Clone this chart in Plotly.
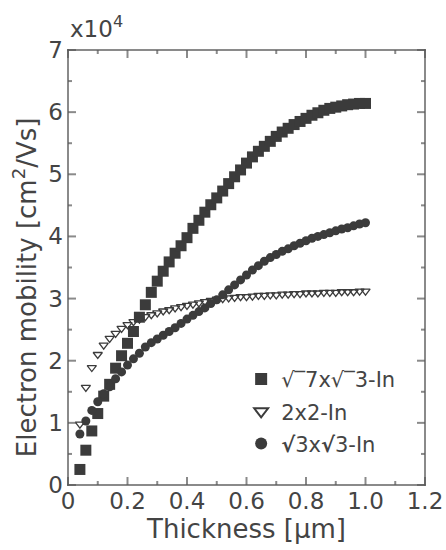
import plotly.graph_objects as go

# Film thickness in micrometres (shared by all three series)
thickness = [0.04, 0.06, 0.08, 0.10, 0.12, 0.14, 0.16, 0.18, 0.20, 0.22,
             0.24, 0.26, 0.28, 0.30, 0.32, 0.34, 0.36, 0.38, 0.40, 0.42,
             0.44, 0.46, 0.48, 0.50, 0.52, 0.54, 0.56, 0.58, 0.60, 0.62,
             0.64, 0.66, 0.68, 0.70, 0.72, 0.74, 0.76, 0.78, 0.80, 0.82,
             0.84, 0.86, 0.88, 0.90, 0.92, 0.94, 0.96, 0.98, 1.00]

# Electron mobility in units of 1e4 cm^2/Vs
mob_r7r3 = [0.25, 0.56, 0.87, 1.15, 1.43, 1.62, 1.88, 2.08, 2.28, 2.47,
            2.70, 2.90, 3.10, 3.28, 3.44, 3.59, 3.73, 3.85, 3.98, 4.13,
            4.26, 4.39, 4.51, 4.62, 4.73, 4.85, 4.96, 5.07, 5.18, 5.28,
            5.37, 5.45, 5.53, 5.61, 5.68, 5.74, 5.80, 5.85, 5.90, 5.95,
            5.99, 6.03, 6.06, 6.08, 6.10, 6.12, 6.13, 6.14, 6.14]

mob_2x2 = [0.98, 1.57, 1.89, 2.10, 2.25, 2.36, 2.44, 2.52, 2.58, 2.63,
           2.67, 2.71, 2.74, 2.77, 2.80, 2.82, 2.85, 2.87, 2.89, 2.91,
           2.93, 2.95, 2.97, 2.99, 3.00, 3.01, 3.02, 3.03, 3.03, 3.04,
           3.05, 3.05, 3.06, 3.06, 3.07, 3.07, 3.08, 3.08, 3.09, 3.09,
           3.09, 3.10, 3.10, 3.10, 3.11, 3.11, 3.11, 3.12, 3.12]

mob_r3r3 = [0.82, 1.03, 1.20, 1.34, 1.47, 1.58, 1.71, 1.82, 1.93, 2.03,
            2.12, 2.22, 2.29, 2.35, 2.41, 2.47, 2.53, 2.60, 2.67, 2.73,
            2.79, 2.85, 2.92, 2.98, 3.06, 3.14, 3.22, 3.30, 3.38, 3.46,
            3.53, 3.60, 3.66, 3.71, 3.76, 3.80, 3.85, 3.89, 3.93, 3.97,
            4.00, 4.03, 4.06, 4.09, 4.12, 4.14, 4.17, 4.20, 4.22]

series_names = ["\u221a\u203e7x\u221a\u203e3-In", "2x2-In",
                "<b>\u221a</b>3x<b>\u221a</b>3-In"]

x_range = [0, 1.2]
y_range = [0, 7]
x_ticks = [0, 0.2, 0.4, 0.6, 0.8, 1.0, 1.2]
x_ticklabels = ["0", "0.2", "0.4", "0.6", "0.8", "1.0", "1.2"]
y_ticks = [0, 1, 2, 3, 4, 5, 6, 7]
x_minor = [0.1, 0.3, 0.5, 0.7, 0.9, 1.1]
y_minor = [0.5, 1.5, 2.5, 3.5, 4.5, 5.5, 6.5]

ink = "#3b3b3b"
axis_col = "#5a5a5a"
text_col = "#444444"
font_fam = "DejaVu Sans, Liberation Sans, Arial, sans-serif"

W, H = 446, 550
M = dict(l=68, r=21, t=50, b=65)
plot_w = W - M["l"] - M["r"]
plot_h = H - M["t"] - M["b"]
# data units per screen pixel (margins are fixed, automargin is off)
ux = (x_range[1] - x_range[0]) / plot_w
uy = (y_range[1] - y_range[0]) / plot_h
# plotly draws line-ew / line-ns symbols 1.4x the marker size
LINE_SYM_SCALE = 1.4

fig = go.Figure()
fig.add_trace(go.Scatter(
    x=thickness, y=mob_r7r3, mode="markers", name=series_names[0],
    legendgroup="a",
    marker=dict(symbol="square", size=11, color=ink, line=dict(width=0))))
fig.add_trace(go.Scatter(
    x=thickness, y=mob_2x2, mode="markers", name=series_names[1],
    legendgroup="b",
    marker=dict(symbol="triangle-down-open", size=8, color=ink,
                line=dict(width=1.3, color=ink))))
fig.add_trace(go.Scatter(
    x=thickness, y=mob_r3r3, mode="markers", name=series_names[2],
    legendgroup="c",
    marker=dict(symbol="circle", size=9, color=ink, line=dict(width=0))))

x0, x1 = x_range
y0, y1 = y_range
xm = (x0 + x1) / 2
ym = (y0 + y1) / 2

# plot frame: four long line symbols, one per side
fig.add_trace(go.Scatter(
    x=[xm, xm, x0, x1], y=[y0, y1, ym, ym], mode="markers",
    marker=dict(symbol=["line-ew", "line-ew", "line-ns", "line-ns"],
                size=[(plot_w + 2) / LINE_SYM_SCALE] * 2
                     + [(plot_h + 2) / LINE_SYM_SCALE] * 2,
                color=axis_col, line=dict(width=2, color=axis_col)),
    showlegend=False, hoverinfo="skip", cliponaxis=False))

# inward tick marks on all four sides, each centred half its length inside
tx, ty, tsym, tsize = [], [], [], []
for vals, ln in ((x_ticks, 8), (x_minor, 4)):
    for v in vals:
        tx += [v, v]
        ty += [y0 + ln / 2 * uy, y1 - ln / 2 * uy]
        tsym += ["line-ns", "line-ns"]
        tsize += [ln / LINE_SYM_SCALE] * 2
for vals, ln in ((y_ticks, 8), (y_minor, 4)):
    for v in vals:
        tx += [x0 + ln / 2 * ux, x1 - ln / 2 * ux]
        ty += [v, v]
        tsym += ["line-ew", "line-ew"]
        tsize += [ln / LINE_SYM_SCALE] * 2
fig.add_trace(go.Scatter(
    x=tx, y=ty, mode="markers",
    marker=dict(symbol=tsym, size=tsize, color=axis_col,
                line=dict(width=2, color=axis_col)),
    showlegend=False, hoverinfo="skip", cliponaxis=False))

tick_font = dict(family=font_fam, size=23, color=text_col)
title_font = dict(family=font_fam, size=26, color=text_col)

fig.update_layout(
    width=W, height=H, margin=M,
    paper_bgcolor="white", plot_bgcolor="white",
    xaxis=dict(
        range=x_range, tickmode="array", tickvals=x_ticks,
        ticktext=x_ticklabels, tickfont=tick_font, automargin=False,
        showline=False, ticks="", showgrid=False, zeroline=False,
        title=dict(text="Thickness [\u03bcm]", standoff=2, font=title_font)),
    yaxis=dict(
        range=y_range, tickmode="array", tickvals=y_ticks,
        tickfont=tick_font, showline=False, ticks="", automargin=False,
        showgrid=False, zeroline=False, ticklabelstandoff=4),
    legend=dict(x=0.485, y=0.29, xanchor="left", yanchor="top",
                bgcolor="rgba(255,255,255,0)", itemsizing="constant",
                font=dict(family=font_fam, size=21, color=text_col),
                tracegroupgap=2),
)

# vertical axis title
fig.add_annotation(
    text="Electron mobility [cm<sup>2</sup>/Vs]", textangle=-90,
    xref="paper", yref="paper", x=-0.12, y=0.455,
    xanchor="center", yanchor="middle", showarrow=False, font=title_font)

fig.add_annotation(
    text="x10<sup>4</sup>", xref="paper", yref="paper", x=0.0, y=1.0,
    xanchor="left", yanchor="bottom", yshift=6, showarrow=False,
    font=dict(family=font_fam, size=23, color=text_col))

fig.write_html("out.html")
